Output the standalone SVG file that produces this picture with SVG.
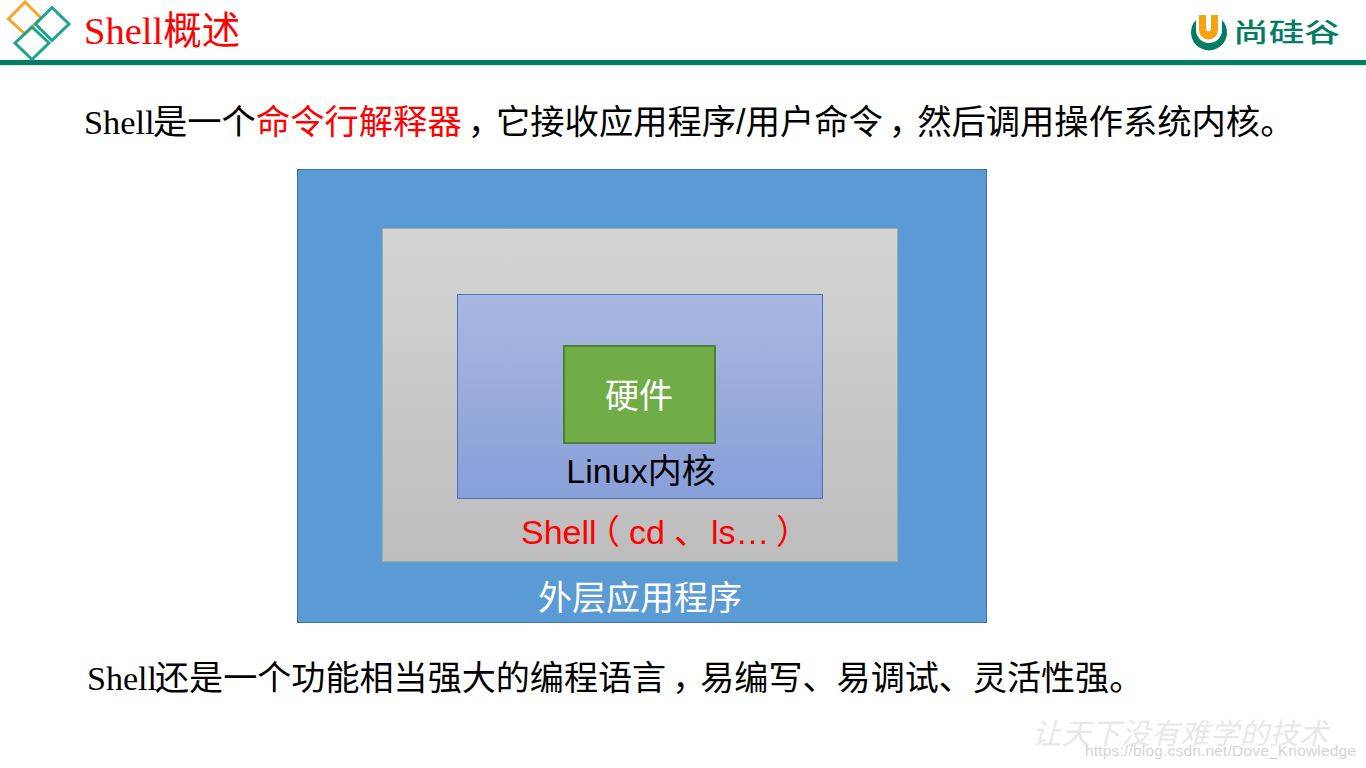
<svg xmlns="http://www.w3.org/2000/svg" width="1366" height="768" viewBox="0 0 1366 768">
<style>
.serif{font-family:"Liberation Serif","Noto Sans CJK SC",serif}
.sans{font-family:"Liberation Sans","Noto Sans CJK SC",sans-serif}
.cn{font-family:"Noto Sans CJK SC",sans-serif}
.body{font-size:34.3px;fill:#000}
.lab{font-size:34px;text-anchor:middle}
.dia{fill:none;stroke-width:3}
</style>
<defs>
<linearGradient id="gGray" x1="0" y1="0" x2="0" y2="1"><stop offset="0" stop-color="#d4d4d4"/><stop offset="1" stop-color="#bdbdbd"/></linearGradient>
<linearGradient id="gBlue" x1="0" y1="0" x2="0" y2="1"><stop offset="0" stop-color="#a9b8e0"/><stop offset="1" stop-color="#879fd8"/></linearGradient>
</defs>
<rect width="1366" height="768" fill="#fff"/>
<g id="header">
<path class="dia" stroke="#f5a623" d="M25 2 L41 18 L25 34 L8.500 19 Z"/>
<path class="dia" stroke="#1aa58c" d="M52 7.500 L69 24 L52 40.500 L35.500 24 Z"/>
<path class="dia" stroke="#1aa58c" d="M32 27 L49 43 L32 59.500 L15 43 Z"/>
<text class="serif" x="84" y="44" font-size="38.500" fill="#ff0000">Shell概述</text>
<rect x="0" y="60" width="1366" height="5" fill="#047c64"/>
<rect x="0" y="65" width="1366" height="1" fill="#d3eee8"/>
</g>
<g id="logo">
<path d="M1196 20 A18 18 0 1 0 1222 20 L1222 30 A13 13 0 1 1 1196 30 Z" fill="#047c64"/>
<path d="M1199 15 H1206 V30 A3 3 0 0 0 1211 30 V15 H1218 V30 A9.500 9.500 0 0 1 1199 30 Z" fill="#f5a30f"/>
<text class="cn" x="1233" y="42" font-size="26" font-weight="500" fill="#047c64" textLength="107" lengthAdjust="spacingAndGlyphs">尚硅谷</text>
</g>
<g id="intro">
<text class="serif body" x="84" y="134">Shell<tspan class="cn" x="153">是一个</tspan><tspan class="cn" fill="#ff0000">命令行解释器</tspan><tspan class="cn" dx="6">，</tspan><tspan class="cn" dx="-6">它接收应用程序</tspan><tspan class="sans">/</tspan><tspan class="cn">用户命令</tspan><tspan class="cn" dx="6">，</tspan><tspan class="cn" dx="-6">然后调用操作系统内核。</tspan></text>
</g>
<g id="app">
<rect x="297.500" y="169.500" width="689" height="453" fill="#5b9bd5" stroke="#41719c" stroke-width="1"/>
<text class="cn lab" x="640" y="610" fill="#fff">外层应用程序</text>
</g>
<g id="shell">
<rect x="382.500" y="228.500" width="515" height="333" fill="url(#gGray)" stroke="#a5a5a5" stroke-width="1"/>
<text class="sans" font-size="34" x="521" y="544" fill="#ff0000">Shell<tspan x="586">（</tspan><tspan x="629">cd</tspan><tspan x="674">、</tspan><tspan x="711">ls…</tspan><tspan x="776">）</tspan></text>
</g>
<g id="kernel">
<rect x="457.500" y="294.500" width="365" height="204" fill="url(#gBlue)" stroke="#4472c4" stroke-width="1"/>
<text class="sans lab" x="641" y="483" fill="#000">Linux内核</text>
</g>
<g id="hardware">
<rect x="564" y="346" width="151" height="97" fill="#70ad47" stroke="#507e32" stroke-width="2"/>
<text class="cn lab" x="639" y="408" fill="#fff">硬件</text>
</g>
<g id="outro">
<text class="serif body" x="87" y="690" style="font-size:34.1px">Shell<tspan class="cn" x="155">还是一个功能相当强大的编程语言</tspan><tspan class="cn" dx="6">，</tspan><tspan class="cn" dx="-6">易编写、易调试、灵活性强。</tspan></text>
</g>
<g id="watermark">
<text x="1032" y="744" font-size="29" font-style="italic" fill="#e8e8e8" font-family="Noto Sans CJK SC,sans-serif" textLength="296">让天下没有难学的技术</text>
<text class="sans" x="1085" y="756" font-size="15.500" fill="#d4d4d4" textLength="271">https://blog.csdn.net/Dove_Knowledge</text>
</g>
</svg>
